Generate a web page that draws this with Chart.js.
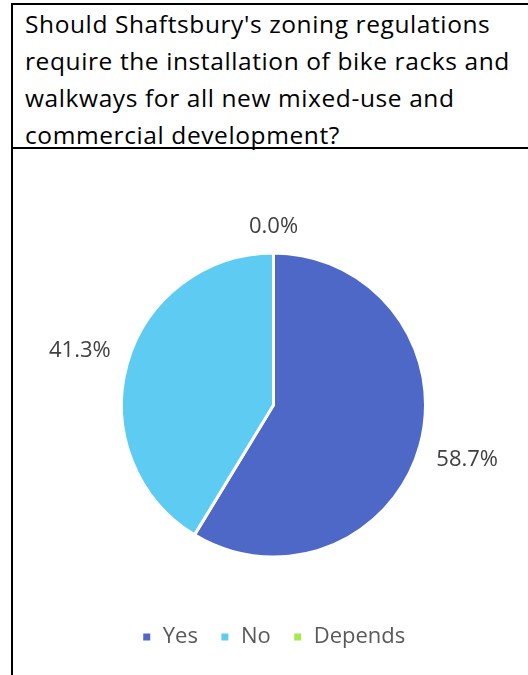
<!DOCTYPE html>
<html>
<head>
<meta charset="utf-8">
<script src="https://cdn.jsdelivr.net/npm/chart.js@4/dist/chart.umd.min.js"></script>
<style>
  html, body { margin: 0; padding: 0; background: #fff; }
  .frame { position: absolute; left: 11px; top: 3px; width: 530px; height: 690px; border-left: 2px solid #000; }
  .title {
    border-top: 2px solid #000; border-bottom: 2px solid #000;
    height: 142px; box-sizing: content-box;
    padding: 0 0 0 12px;
    font-family: "Open Sans", sans-serif; font-size: 24.5px; letter-spacing: 0.6px; line-height: 37px; color: #000;
  }
  .chart-box { position: absolute; left: 2px; top: 146px; width: 515px; height: 526px; }
</style>
</head>
<body>
<div class="frame">
  <div class="title">Should Shaftsbury's zoning regulations<br>require the installation of bike racks and<br>walkways for all new mixed-use and<br>commercial development?</div>
  <div class="chart-box"><canvas id="pie"></canvas></div>
</div>
<script>
// данные
const categories = ["Yes", "No", "Depends"];
const shares = [58.7, 41.3, 0.0];
const colors = ["#4E68C8", "#5ECCF2", "#A6E84F"];

// подписи процентов снаружи круга
const outerLabels = {
  id: "outerLabels",
  afterDatasetsDraw(chart) {
    const ctx = chart.ctx;
    const meta = chart.getDatasetMeta(0);
    ctx.save();
    ctx.font = "22px 'Open Sans', sans-serif";
    ctx.fillStyle = "#404040";
    ctx.textAlign = "center";
    ctx.textBaseline = "middle";
    meta.data.forEach((arc, i) => {
      const p = arc.getProps(["x", "y", "startAngle", "endAngle", "outerRadius"], true);
      const mid = (p.startAngle + p.endAngle) / 2;
      const text = shares[i].toFixed(1) + "%";
      const hw = ctx.measureText(text).width / 2;
      const dist = p.outerRadius + 17 + Math.abs(Math.cos(mid)) * hw + Math.abs(Math.sin(mid)) * 9;
      ctx.fillText(text, p.x + Math.cos(mid) * dist, p.y + Math.sin(mid) * dist);
    });
    ctx.restore();
  },
};

const ctx = document.getElementById("pie").getContext("2d");
const myChart = new Chart(ctx, {
  type: "pie",
  data: {
    labels: categories,
    datasets: [
      {
        data: shares,
        backgroundColor: colors,
        borderColor: "#ffffff",
        borderWidth: 3,
        radius: 152,
      },
    ],
  },
  plugins: [outerLabels],
  options: {
    responsive: true,
    maintainAspectRatio: false,
    animation: false,
    layout: { padding: { top: 57, bottom: 17, left: 2, right: 0 } },
    plugins: {
      tooltip: { enabled: false },
      legend: {
        position: "bottom",
        labels: {
          boxWidth: 10,
          boxHeight: 10,
          padding: 22,
          color: "#595959",
          font: { size: 22, family: "'Open Sans', sans-serif" },
        },
      },
    },
  },
});
</script>
</body>
</html>
